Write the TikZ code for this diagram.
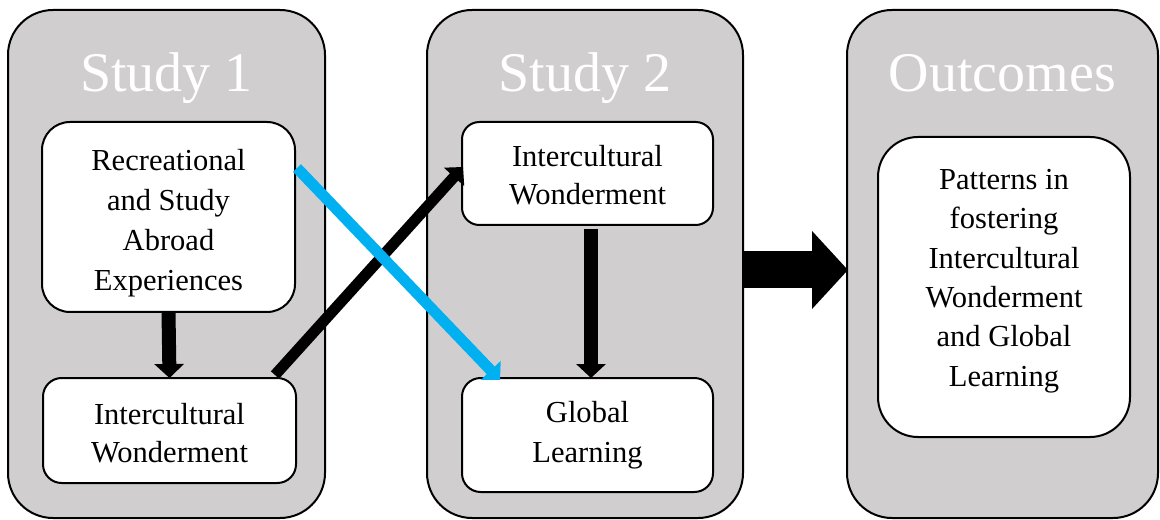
\documentclass[tikz,border=0pt]{standalone}
\usepackage{fontspec}
\setmainfont{Liberation Serif}
\usetikzlibrary{arrows.meta,calc}
\definecolor{panelgray}{HTML}{D0CECE}
\definecolor{arrowblue}{HTML}{00B0F0}
\begin{document}
\begin{tikzpicture}[x=0.75pt,y=-0.75pt,
  panel/.style={draw=black, line width=1.5pt, fill=panelgray, rounded corners=33.75pt,
    minimum height=381pt, inner sep=0pt, outer sep=0pt},
  title/.style={text=white, font=\fontsize{42pt}{50pt}\selectfont, anchor=base, inner sep=0pt},
  box/.style={draw=black, line width=1.5pt, fill=white, inner sep=0pt, outer sep=0pt, align=center},
  fat/.style={line width=10.5pt, -{Triangle[length=10.5pt,width=21.75pt]}},
  diag/.style={line width=8.25pt, -{Triangle[length=10pt,width=20pt]}},
  block/.style={line width=27.75pt, -{Triangle[length=27pt,width=57pt]}}
]
\useasboundingbox (0,0) rectangle (1160,520);

% panels
\node[panel, minimum width=237.75pt] (p1) at (166.5,264) {};
\node[panel, minimum width=237pt] (p2) at (585,264) {};
\node[panel, minimum width=233.25pt] (p3) at (1002.5,264) {};

% titles
\node[title] (t1) at (166.5,92) {Study 1};
\node[title] (t2) at (585,92) {Study 2};
\node[title] (t3) at (1002.5,92) {Outcomes};

% inner boxes
\node[box, rounded corners=21pt, minimum width=189.75pt, minimum height=142.5pt,
  font=\fontsize{22.9pt}{30pt}\selectfont] (rec) at (168.5,217)
  {\rule{0pt}{24.75pt}Recreational\\and Study\\Abroad\\Experiences};
\node[box, rounded corners=14pt, minimum width=189.75pt, minimum height=78.75pt,
  font=\fontsize{22.9pt}{28.5pt}\selectfont] (iw1) at (169.5,430.5)
  {\rule{0pt}{20.25pt}Intercultural\\Wonderment};
\node[box, rounded corners=13pt, minimum width=188.25pt, minimum height=77.25pt,
  font=\fontsize{22.9pt}{28.5pt}\selectfont] (iw2) at (587.5,173.5)
  {\rule{0pt}{18.75pt}Intercultural\\Wonderment};
\node[box, rounded corners=14pt, minimum width=188.25pt, minimum height=85.5pt,
  font=\fontsize{22.9pt}{30pt}\selectfont] (gl) at (587.5,435)
  {Global\\Learning};
\node[box, rounded corners=30pt, minimum width=189pt, minimum height=225pt,
  font=\fontsize{22.9pt}{29.5pt}\selectfont] (out) at (1004,287)
  {Patterns in\\fostering\\Intercultural\\Wonderment\\and Global\\Learning\rule[-14pt]{0pt}{0pt}};

% arrows
\draw[fat] (rec.south) -- (iw1.north);
\draw[fat] ($(iw2.south)+(3.5,4)$) -- ($(gl.north)+(3.5,0)$);
\draw[diag, black] ($(iw1.north east)+(-21,-3)$) -- ($(iw2.north west)+(1,45)$);
\draw[diag, arrowblue] ($(rec.north east)+(2,46)$) -- ($(gl.north west)+(38,2)$);
\draw[block] ($(p2.east)+(0,6)$) -- ($(p3.west)+(1,6)$);
\end{tikzpicture}
\end{document}
